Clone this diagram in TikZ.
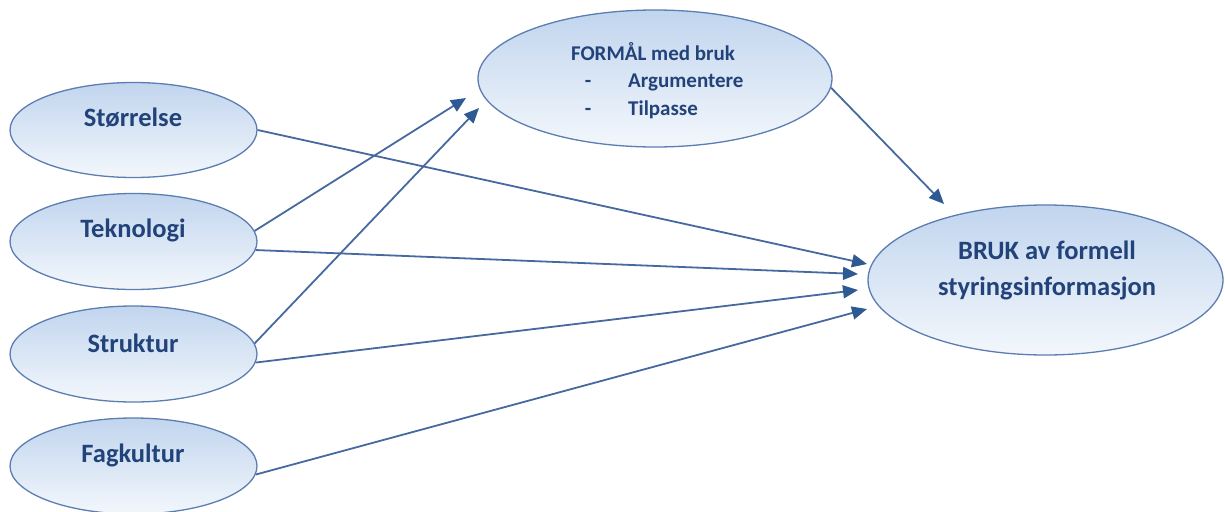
\documentclass[tikz,border=0pt]{standalone}
\usepackage{fontspec}
\setmainfont{Carlito}
\usetikzlibrary{arrows.meta,shapes.geometric}
\definecolor{edge}{HTML}{5B7DB1}
\definecolor{topfill}{HTML}{C1D5EE}
\definecolor{botfill}{HTML}{F3F7FC}
\definecolor{txt}{HTML}{22437A}
\definecolor{arr}{HTML}{46699F}
\definecolor{arrhead}{HTML}{2E5A94}
\tikzset{
  oval/.style={ellipse, draw=edge, line width=1.3pt, top color=topfill, bottom color=botfill, inner sep=0pt},
  lbl/.style={text=txt, font=\bfseries\fontsize{26.5}{30}\selectfont, inner sep=0pt},
  small/.style={text=txt, font=\bfseries\fontsize{21}{24}\selectfont, inner sep=0pt},
  conn/.style={draw=arr, line width=1.8pt, -{Triangle[length=15pt,width=13pt,color=arrhead,fill=arrhead]}}
}
\begin{document}
\begin{tikzpicture}[x=1pt,y=-1pt]
\useasboundingbox (0,0) rectangle (1225,511);
% ellipses
\node[oval, minimum width=247pt, minimum height=95pt] (sto) at (133.5,130) {};
\node[oval, minimum width=247pt, minimum height=96pt] (tek) at (133.5,241.5) {};
\node[oval, minimum width=247pt, minimum height=96pt] (str) at (133.5,354) {};
\node[oval, minimum width=247pt, minimum height=96pt] (fag) at (133.5,466) {};
\node[oval, minimum width=354pt, minimum height=137pt] (for) at (655,78.5) {};
\node[oval, minimum width=355pt, minimum height=150pt] (bruk) at (1045.5,280) {};
% texts
\node[lbl] (tsto) at (133,118) {Størrelse};
\node[lbl] (ttek) at (133,230) {Teknologi};
\node[lbl] (tstr) at (133,343) {Struktur};
\node[lbl] (tfag) at (133,455) {Fagkultur};
\node[small] (tfor) at (653,52) {FORMÅL med bruk};
\node[small] (d1) at (588,84) {-};
\node[small, anchor=west] (targ) at (628,82) {Argumentere};
\node[small] (d2) at (588,112) {-};
\node[small, anchor=west] (ttil) at (628,110) {Tilpasse};
\node[lbl, align=center, font=\bfseries\fontsize{26.5}{36}\selectfont] (tbruk) at (1047,270) {BRUK av formell\\styringsinformasjon};
% arrow end points
\coordinate (e1) at (867,264);
\coordinate (e2) at (858,274);
\coordinate (e3) at (858,290);
\coordinate (e4) at (867,309);
\coordinate (f1) at (466,98);
\coordinate (f2) at (479,108);
\coordinate (b1) at (944,204);
% connectors
\draw[conn] (sto.east) -- (e1);
\draw[conn] (tek.5) -- (f1);
\draw[conn] (tek.-4) -- (e2);
\draw[conn] (str.5) -- (f2);
\draw[conn] (str.-4) -- (e3);
\draw[conn] (fag.-4) -- (e4);
\draw[conn] (for.-3) -- (b1);
\end{tikzpicture}
\end{document}
